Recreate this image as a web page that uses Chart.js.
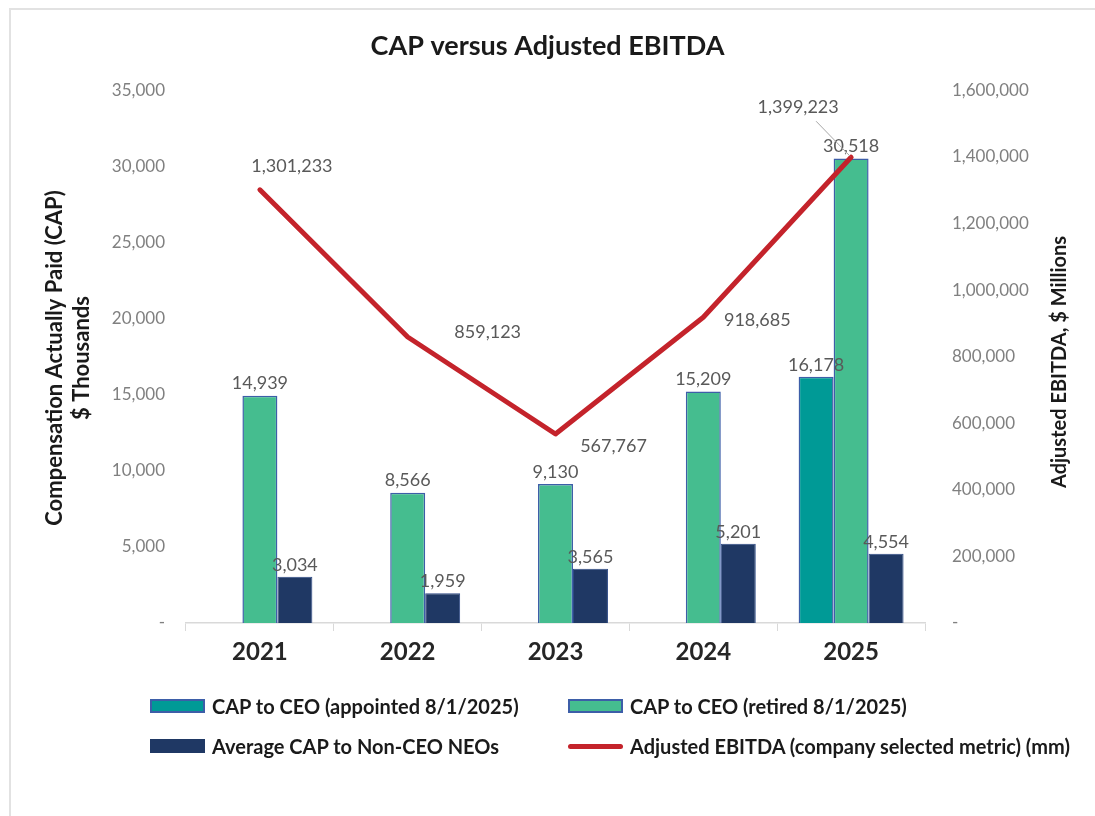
<!DOCTYPE html>
<html>
<head>
<meta charset="utf-8">
<script src="https://cdn.jsdelivr.net/npm/chart.js@4.4.1/dist/chart.umd.min.js"></script>
<style>
  html, body { margin: 0; padding: 0; background: #fff; }
  #wrap { position: relative; width: 1095px; height: 816px; overflow: hidden; font-family: Lato, sans-serif; }
  #frame { position: absolute; left: 9px; top: 8px; width: 1200px; height: 900px;
           border-left: 2px solid #e2e2e2; border-top: 2px solid #e2e2e2; }
  canvas { position: absolute; left: 0; top: 0; }
  .item { position: absolute; display: flex; align-items: center; font-weight: bold;
          font-size: 20px; color: #1a1a1a; white-space: nowrap; }
  .sw { width: 55px; height: 14px; margin-right: 7px; box-sizing: border-box; }
  .ln { width: 55px; height: 5px; margin-right: 7px; border-radius: 3px; }
</style>
</head>
<body>
<div id="wrap">
  <div id="frame"></div>
  <canvas id="chart" width="1095" height="816"></canvas>
  <div id="legend"></div>
</div>
<script>
const years = ['2021', '2022', '2023', '2024', '2025'];
const capCeoAppointed = [null, null, null, null, 16178];
const capCeoRetired = [14939, 8566, 9130, 15209, 30518];
const capNonCeo = [3034, 1959, 3565, 5201, 4554];
const adjEbitda = [1301233, 859123, 567767, 918685, 1399223];

const seriesNames = [
  'CAP to CEO (appointed 8/1/2025)',
  'CAP to CEO (retired 8/1/2025)',
  'Average CAP to Non-CEO NEOs',
  'Adjusted EBITDA (company selected metric) (mm)'
];

const TEAL = '#009a96';
const GREEN = '#45bd8f';
const NAVY = '#1f3864';
const RED = '#c4232b';
const EDGE = '#3d5ea8';

const fmt = v => v.toLocaleString('en-US');

// where each EBITDA label sits relative to its point
const lineLabelOffsets = [[32, -24], [80, -5], [58, 12], [54, 3], [-53, -50]];

const labelPlugin = {
  id: 'valueLabels',
  afterDatasetsDraw(chart) {
    const ctx = chart.ctx;
    ctx.save();
    ctx.font = '18px Lato';
    ctx.fillStyle = '#595959';
    ctx.textAlign = 'center';
    ctx.textBaseline = 'bottom';
    [0, 1, 2].forEach(di => {
      const meta = chart.getDatasetMeta(di);
      meta.data.forEach((bar, i) => {
        const v = chart.data.datasets[di].data[i];
        if (v == null) return;
        ctx.fillText(fmt(v), bar.x, bar.y - 3);
      });
    });
    const lm = chart.getDatasetMeta(3);
    ctx.textBaseline = 'middle';
    lm.data.forEach((pt, i) => {
      const [dx, dy] = lineLabelOffsets[i];
      const tx = pt.x + dx, ty = pt.y + dy;
      if (i === 4) {
        ctx.strokeStyle = '#a6a6a6';
        ctx.lineWidth = 1;
        ctx.beginPath();
        ctx.moveTo(tx + 18, ty + 14);
        ctx.lineTo(pt.x - 1, pt.y - 1);
        ctx.stroke();
      }
      ctx.fillText(fmt(chart.data.datasets[3].data[i]), tx, ty);
    });
    ctx.restore();
  }
};

const axisTitlePlugin = {
  id: 'axisTitles',
  afterDraw(chart) {
    const ctx = chart.ctx;
    const mid = 358;
    ctx.save();
    ctx.fillStyle = '#1a1a1a';
    ctx.font = 'bold 22px Lato';
    ctx.textAlign = 'center';
    ctx.textBaseline = 'middle';
    ctx.translate(55, mid);
    ctx.rotate(-Math.PI / 2);
    ctx.fillText('Compensation Actually Paid (CAP)', 0, 0);
    ctx.fillText('$ Thousands', 0, 27);
    ctx.restore();
    ctx.save();
    ctx.fillStyle = '#1a1a1a';
    ctx.font = 'bold 20px Lato';
    ctx.textAlign = 'center';
    ctx.textBaseline = 'middle';
    ctx.translate(1060, 362);
    ctx.rotate(-Math.PI / 2);
    ctx.fillText('Adjusted EBITDA, $ Millions', 0, 0);
    ctx.restore();
  }
};

const barCommon = { categoryPercentage: 0.71, barPercentage: 1, yAxisID: 'y', order: 1 };

new Chart(document.getElementById('chart'), {
  type: 'bar',
  data: {
    labels: years,
    datasets: [
      { ...barCommon, label: seriesNames[0], data: capCeoAppointed,
        backgroundColor: TEAL, borderColor: EDGE, borderWidth: 1.5 },
      { ...barCommon, label: seriesNames[1], data: capCeoRetired,
        backgroundColor: GREEN, borderColor: EDGE, borderWidth: 1.5 },
      { ...barCommon, label: seriesNames[2], data: capNonCeo,
        backgroundColor: NAVY, borderColor: '#2e4a86', borderWidth: 1 },
      { type: 'line', label: seriesNames[3], data: adjEbitda, yAxisID: 'y1', order: 0,
        borderColor: RED, borderWidth: 5, pointRadius: 0, tension: 0,
        borderCapStyle: 'round', borderJoinStyle: 'round' }
    ]
  },
  options: {
    responsive: false,
    animation: false,
    layout: { padding: { left: 0, right: 0, top: 0, bottom: 133 } },
    plugins: {
      legend: { display: false },
      tooltip: { enabled: false },
      title: {
        display: true,
        text: 'CAP versus Adjusted EBITDA',
        color: '#1a1a1a',
        font: { family: 'Lato', size: 27, weight: 'bold' },
        padding: { top: 30, bottom: 28 }
      }
    },
    scales: {
      x: {
        grid: { offset: true, drawOnChartArea: false, drawTicks: true, tickLength: 8, color: '#d9d9d9' },
        border: { color: '#d9d9d9', width: 1.5 },
        ticks: { color: '#262626', font: { family: 'Lato', size: 24, weight: 'bold' }, padding: 7 },
        afterFit: s => { s.height = 60; }
      },
      y: {
        position: 'left',
        min: 0, max: 35000,
        grid: { display: false, drawTicks: false },
        border: { display: false },
        ticks: { stepSize: 5000, padding: 21, color: '#808080', font: { family: 'Lato', size: 17 },
                 callback: v => v === 0 ? '-' : fmt(v) },
        afterFit: s => { s.width = 186; }
      },
      y1: {
        position: 'right',
        min: 0, max: 1600000,
        grid: { display: false, drawTicks: false },
        border: { display: false },
        ticks: { stepSize: 200000, padding: 27, color: '#808080', font: { family: 'Lato', size: 17 },
                 callback: v => v === 0 ? '-' : fmt(v) },
        afterFit: s => { s.width = 170; }
      }
    }
  },
  plugins: [labelPlugin, axisTitlePlugin]
});

// two-by-two legend under the axis
const legendSpots = [[150, 706], [568, 706], [150, 746], [568, 746]];
const swatches = [
  `<div class="sw" style="background:${TEAL};border:2px solid ${EDGE}"></div>`,
  `<div class="sw" style="background:${GREEN};border:2px solid ${EDGE}"></div>`,
  `<div class="sw" style="background:${NAVY}"></div>`,
  `<div class="ln" style="background:${RED}"></div>`
];
const legend = document.getElementById('legend');
seriesNames.forEach((name, i) => {
  const el = document.createElement('div');
  el.className = 'item';
  el.style.left = legendSpots[i][0] + 'px';
  el.style.top = (legendSpots[i][1] - 13) + 'px';
  el.style.height = '26px';
  el.innerHTML = swatches[i] + '<span>' + name + '</span>';
  legend.appendChild(el);
});
</script>
</body>
</html>
